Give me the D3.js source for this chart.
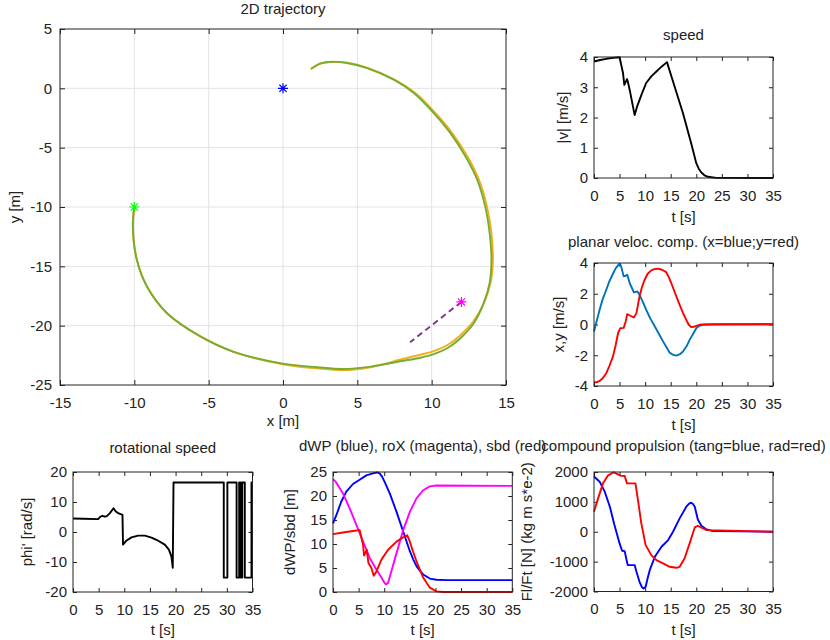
<!DOCTYPE html>
<html>
<head>
<meta charset="utf-8">
<script src="https://cdn.jsdelivr.net/npm/d3@7"></script>
<style>
  body { margin: 0; background: #fff; }
  text { font-family: "Liberation Sans", Arial, sans-serif; font-size: 15px; fill: #222; }
</style>
</head>
<body>
<svg id="fig" width="830" height="640"></svg>
<script>
// ---- data ----
const trajOrange = [[-10,-10],[-10.1,-11.6],[-9.83,-14.45],[-9.15,-16.7],[-7.8,-18.95],[-5.56,-20.9],[-3.32,-22.2],[0,-23.25],
  [2.29,-23.6],[4.08,-23.75],[5.88,-23.5],[7.9,-22.85],[9.24,-22.45],[10.14,-22.15],[11.04,-21.65],[11.9,-20.85],[12.83,-19.6],
  [13.55,-18.0],[13.98,-16.3],[14.12,-14.45],[14.02,-12.2],[13.72,-9.95],[13.18,-7.7],[12.4,-5.73],[11.38,-3.77],[10.25,-2.08],
  [8.9,-0.4],[7.52,0.72],[5.7,1.72],[4.32,2.16],[3.18,2.24],[2.5,2.08],[1.88,1.63]];
const trajGreen = [[-10,-10],[-10.1,-11.6],[-9.83,-14.45],[-9.15,-16.7],[-7.8,-18.95],[-5.56,-20.9],[-3.32,-22.2],[0,-23.2],
  [2.29,-23.5],[4.08,-23.65],[5.88,-23.45],[7.9,-23.0],[9.24,-22.7],[10.14,-22.4],[11.04,-21.9],[11.9,-21.1],[12.83,-19.8],
  [13.5,-18.1],[13.9,-16.4],[14.02,-14.45],[13.9,-12.2],[13.6,-9.95],[13.06,-7.7],[12.27,-5.73],[11.26,-3.77],[10.14,-2.08],
  [8.8,-0.39],[7.45,0.73],[5.65,1.71],[4.3,2.14],[3.18,2.22],[2.5,2.08],[1.88,1.63]];
const headingLine = [[12,-18],[8.55,-21.4]];
const startPt = [-10,-10];
const originPt = [0,0];
const targetPt = [12,-18];

const speed = [[0,3.85],[1.2,3.9],[2.4,3.94],[3.7,3.97],[5.0,3.99],[5.67,3.47],[5.93,3.08],[6.45,3.27],[6.6,3.2],[6.97,2.92],
  [7.95,2.08],[8.4,2.35],[8.93,2.59],[9.5,2.85],[10.2,3.14],[11.2,3.36],[12.2,3.52],[13.2,3.68],[14.27,3.83],[15.45,3.19],
  [17.4,2.14],[19.0,1.15],[20.0,0.49],[20.5,0.3],[21.0,0.18],[21.6,0.09],[22.3,0.04],[23.9,0.005],[35,0]];

const velX = [[0,-0.46],[0.5,0.2],[1.1,0.96],[1.7,1.65],[2.4,2.26],[3.0,2.8],[3.7,3.3],[4.3,3.68],[4.9,3.93],[5.1,3.95],
  [5.34,3.74],[5.8,3.13],[6.2,3.17],[6.5,3.24],[6.97,2.7],[7.8,2.09],[8.5,2.15],[8.9,1.93],[9.5,1.5],[10.2,0.96],[11.0,0.4],
  [11.9,-0.13],[12.7,-0.62],[13.5,-1.1],[14.2,-1.5],[14.8,-1.83],[15.5,-1.98],[16.1,-2.02],[16.8,-1.93],[17.4,-1.76],
  [18.1,-1.42],[18.7,-1.0],[19.4,-0.6],[20.0,-0.24],[20.6,-0.08],[21.3,-0.02],[23.3,0.02],[35,0.02]];
const velY = [[0,-3.75],[0.5,-3.76],[1.1,-3.67],[1.7,-3.5],[2.4,-3.17],[3.0,-2.7],[3.7,-2.09],[4.2,-1.4],[4.7,-0.57],
  [5.15,-0.24],[5.8,-0.22],[6.2,0.2],[6.5,0.67],[7.1,0.57],[7.8,0.46],[8.3,0.74],[8.9,1.83],[9.4,2.45],[9.9,2.91],[10.5,3.3],
  [11.2,3.52],[11.8,3.6],[12.5,3.63],[13.3,3.56],[14.1,3.41],[14.6,3.1],[15.1,2.7],[15.9,2.0],[16.75,1.28],[17.4,0.75],
  [18.05,0.3],[18.5,0.0],[19.0,-0.17],[19.5,-0.15],[20.0,-0.09],[20.6,-0.02],[21.3,0.0],[35,0.02]];

const rotSpeed = [[0,4.5],[2,4.4],[4.9,4.3],[5.2,4.9],[5.7,5.4],[6.2,5.1],[6.6,5.3],[7.2,6.3],[7.9,7.9],[8.3,6.9],[8.8,6.3],
  [9.65,5.7],[9.75,-4.2],[10.4,-2.9],[11.4,-1.8],[12.7,-1.2],[14.0,-1.2],[15.3,-1.9],[16.6,-2.9],[17.9,-4.2],[18.7,-5.9],
  [19.2,-8.2],[19.45,-11.9],[19.6,16.5],[29.4,16.5],[29.4,-15.2],[30.1,-15.2],[30.1,16.5],[31.9,16.5],[31.9,-15.2],
  [32.4,-15.2],[32.4,16.5],[32.7,16.5],[32.7,-15.2],[33.0,-15.2],[33.0,16.5],[33.5,16.5],[33.5,-15.2],[34.8,-15.2],
  [34.8,16.5],[35,16.5]];

const dWP = [[0,14.3],[0.65,16.0],[1.6,18.8],[2.6,20.9],[3.9,22.5],[5.2,23.4],[6.5,24.3],[7.8,24.7],[8.6,24.9],[9.1,24.7],
  [9.6,24.0],[10.1,22.9],[11.1,20.5],[12.4,16.7],[13.7,12.6],[15.0,8.5],[15.7,6.7],[16.3,5.4],[17.0,4.4],[17.6,3.65],
  [18.9,2.8],[20.2,2.55],[22.2,2.48],[35,2.48]];
const roX = [[0,23.5],[0.5,23.0],[0.98,22.2],[1.96,20.5],[3.26,17.4],[4.56,14.0],[5.87,10.5],[7.17,7.1],[8.47,4.7],[9.45,3.0],
  [10.0,2.0],[10.3,1.6],[10.75,1.9],[11.4,4.3],[12.4,8.1],[13.7,12.9],[15.0,16.7],[16.3,19.5],[17.6,21.2],[18.9,22.0],
  [20.2,22.2],[35,22.1]];
const sbd = [[0,12.05],[1.96,12.4],[3.9,12.7],[5.2,12.9],[5.87,9.85],[6.06,7.6],[6.3,8.1],[6.6,8.8],[6.9,6.1],[7.5,5.0],
  [7.95,3.4],[8.5,4.3],[9.45,6.75],[10.75,8.8],[12.4,10.5],[13.7,11.4],[14.5,11.8],[15.0,10.5],[15.6,8.5],[16.3,6.4],
  [17.6,3.0],[18.9,0.9],[20.2,0.14],[21.5,0],[35,0]];

const propTang = [[0,1850],[1.1,1676],[2.1,1341],[3.1,838],[4.0,223],[5.0,-391],[5.5,-637],[6.0,-650],[6.3,-894],[6.6,-1117],
  [7.3,-1117],[7.95,-1117],[8.3,-1341],[8.9,-1676],[9.4,-1860],[9.7,-1899],[10.1,-1843],[10.5,-1550],[10.9,-1285],[11.9,-838],
  [13.2,-503],[14.5,-279],[15.45,0],[16.75,447],[18.05,838],[18.6,940],[19.0,972],[19.4,920],[19.7,838],[20.3,413],[21.0,201],
  [22.0,78],[23.3,22],[35,0]];
const propRad = [[0,670],[0.8,1117],[1.76,1620],[2.7,1877],[3.85,1990],[4.7,1922],[5.15,1877],[6.0,1866],[6.45,1620],[7.3,1620],
  [8.1,1620],[8.6,1061],[9.25,279],[10.1,-447],[11.2,-782],[12.2,-950],[13.5,-1061],[14.8,-1173],[16.1,-1207],[16.75,-1173],
  [17.7,-894],[18.7,-391],[19.7,145],[20.3,201],[21.0,134],[22.0,56],[35,0]];

const tTicks = [0,5,10,15,20,25,30,35];

// ---- drawing ----
const svg = d3.select("#fig");
const axisColor = "#222";
const fmt = d => String(d);   // plain hyphen minus, no separators

function panel(o) {
  const [x0, y0, x1, y1] = o.box;
  const x = d3.scaleLinear().domain(o.xdom).range([x0, x1]);
  const y = d3.scaleLinear().domain(o.ydom).range([y1, y0]);
  const g = svg.append("g");
  const tl = o.tickLen || 4;

  if (o.grid) {
    g.selectAll(".gx").data(o.xticks.slice(1, -1)).join("line")
      .attr("x1", d => x(d)).attr("x2", d => x(d)).attr("y1", y0).attr("y2", y1)
      .attr("stroke", "#e3e3e3").attr("stroke-width", 1);
    g.selectAll(".gy").data(o.yticks.slice(1, -1)).join("line")
      .attr("y1", d => y(d)).attr("y2", d => y(d)).attr("x1", x0).attr("x2", x1)
      .attr("stroke", "#e3e3e3").attr("stroke-width", 1);
  }

  const axes = [
    [d3.axisBottom(x).tickValues(o.xticks).tickFormat(fmt), `translate(0,${y1})`],
    [d3.axisTop(x).tickValues(o.xticks).tickFormat(""), `translate(0,${y0})`],
    [d3.axisLeft(y).tickValues(o.yticks).tickFormat(fmt), `translate(${x0},0)`],
    [d3.axisRight(y).tickValues(o.yticks).tickFormat(""), `translate(${x1},0)`]
  ];
  axes.forEach(([ax, tr], i) => {
    ax.tickSizeInner(-tl).tickSizeOuter(0).tickPadding(i === 0 ? (o.xpad || 12) : (o.ypad || 6));
    const a = g.append("g").attr("transform", tr).call(ax);
    a.attr("font-size", null).attr("font-family", null);
    a.select(".domain").remove();
    a.selectAll(".tick line").attr("stroke", axisColor);
    a.selectAll("text").attr("fill", axisColor);
  });

  (o.series || []).forEach(s => {
    const line = d3.line().x(d => x(d[0])).y(d => y(d[1])).curve(s.curve || d3.curveLinear);
    g.append("path").datum(s.data).attr("d", line)
      .attr("fill", "none").attr("stroke", s.color).attr("stroke-width", s.width || 1.9)
      .attr("stroke-linejoin", "round")
      .attr("stroke-dasharray", s.dash || null);
  });

  (o.stars || []).forEach(s => {
    const cx = x(s.p[0]), cy = y(s.p[1]), r = 5, q = 3.6;
    g.append("path")
      .attr("d", `M${cx - r},${cy}L${cx + r},${cy}M${cx},${cy - r}L${cx},${cy + r}` +
                 `M${cx - q},${cy - q}L${cx + q},${cy + q}M${cx - q},${cy + q}L${cx + q},${cy - q}`)
      .attr("stroke", s.color).attr("stroke-width", 1.2).attr("fill", "none");
  });

  g.append("rect").attr("x", x0).attr("y", y0).attr("width", x1 - x0).attr("height", y1 - y0)
    .attr("fill", "none").attr("stroke", axisColor).attr("stroke-width", 1);

  const cx = (x0 + x1) / 2, cy = (y0 + y1) / 2;
  g.append("text").attr("x", cx).attr("y", o.titleY).attr("text-anchor", "middle").text(o.title);
  g.append("text").attr("x", cx).attr("y", o.xlabelY).attr("text-anchor", "middle").text(o.xlabel);
  g.append("text").attr("transform", `translate(${o.ylabelX},${cy}) rotate(-90)`)
    .attr("text-anchor", "middle").text(o.ylabel);
}

panel({
  box: [60, 29, 506, 385], xdom: [-15, 15], ydom: [-25, 5],
  xticks: [-15, -10, -5, 0, 5, 10, 15], yticks: [-25, -20, -15, -10, -5, 0, 5],
  grid: true, tickLen: 5, ypad: 8, xpad: 12,
  title: "2D trajectory", titleY: 14, xlabel: "x [m]", xlabelY: 426, ylabel: "y [m]", ylabelX: 20,
  series: [
    { data: trajOrange, color: "#EDB120", curve: d3.curveCatmullRom },
    { data: trajGreen, color: "#77AC30", curve: d3.curveCatmullRom },
    { data: headingLine, color: "#7E2F8E", dash: "6,4" }
  ],
  stars: [
    { p: originPt, color: "#0000FF" },
    { p: startPt, color: "#00FF00" },
    { p: targetPt, color: "#FF00FF" }
  ]
});

panel({
  box: [594, 57, 773, 178], xdom: [0, 35], ydom: [0, 4],
  xticks: tTicks, yticks: [0, 1, 2, 3, 4],
  title: "speed", titleY: 40, xlabel: "t [s]", xlabelY: 222, ylabel: "|v| [m/s]", ylabelX: 568,
  series: [{ data: speed, color: "#000000" }]
});

panel({
  box: [594, 263, 773, 386], xdom: [0, 35], ydom: [-4, 4],
  xticks: tTicks, yticks: [-4, -2, 0, 2, 4],
  title: "planar veloc. comp. (x=blue;y=red)", titleY: 247, xlabel: "t [s]", xlabelY: 430, ylabel: "x,y [m/s]", ylabelX: 564,
  series: [
    { data: velX, color: "#0072BD" },
    { data: velY, color: "#FF0000" }
  ]
});

panel({
  box: [73, 472, 252.5, 592], xdom: [0, 35], ydom: [-20, 20],
  xticks: tTicks, yticks: [-20, -10, 0, 10, 20],
  title: "rotational speed", titleY: 453, xlabel: "t [s]", xlabelY: 635, ylabel: "phi' [rad/s]", ylabelX: 32,
  series: [{ data: rotSpeed, color: "#000000" }]
});

panel({
  box: [333, 472, 512.3, 592], xdom: [0, 35], ydom: [0, 25],
  xticks: tTicks, yticks: [0, 5, 10, 15, 20, 25],
  title: "dWP (blue), roX (magenta), sbd (red)", titleY: 451, xlabel: "t [s]", xlabelY: 635, ylabel: "dWP/sbd [m]", ylabelX: 295,
  series: [
    { data: dWP, color: "#0000FF" },
    { data: roX, color: "#FF00FF" },
    { data: sbd, color: "#FF0000" }
  ]
});

panel({
  box: [594, 472, 773, 591.5], xdom: [0, 35], ydom: [-2000, 2000],
  xticks: tTicks, yticks: [-2000, -1000, 0, 1000, 2000],
  title: "compound propulsion (tang=blue, rad=red)", titleY: 451, xlabel: "t [s]", xlabelY: 635,
  ylabel: "Fl/Ft [N] (kg m s*e-2)", ylabelX: 532,
  series: [
    { data: propTang, color: "#0000FF" },
    { data: propRad, color: "#FF0000" }
  ]
});
</script>
</body>
</html>
